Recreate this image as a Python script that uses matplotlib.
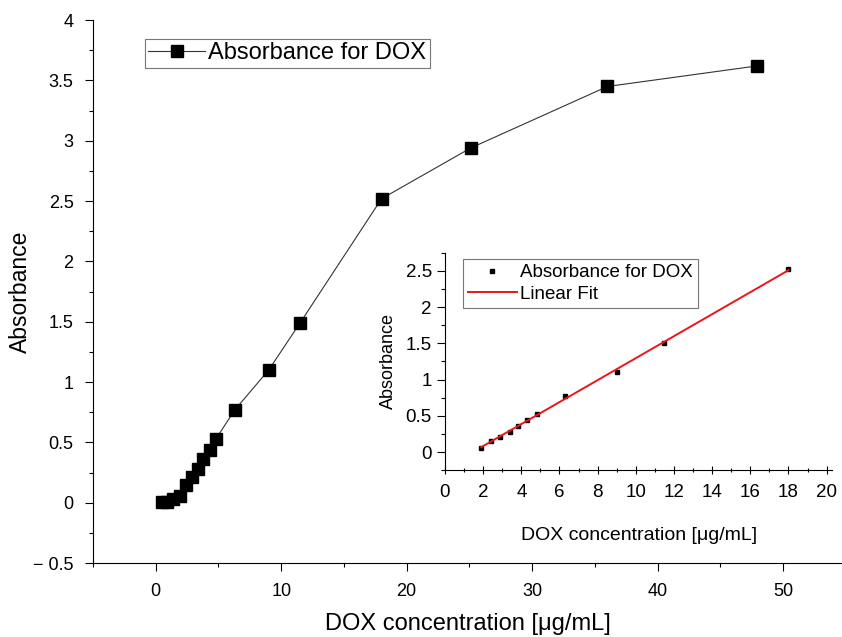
import numpy as np
import matplotlib.pyplot as plt
from matplotlib.ticker import MultipleLocator, FuncFormatter

# main curve
conc = [0.5, 0.9, 1.4, 1.9, 2.4, 2.9, 3.4, 3.8, 4.3, 4.8, 6.3, 9.0, 11.5, 18.0, 25.1, 36.0, 47.9]
absorb = [0.01, 0.01, 0.03, 0.06, 0.15, 0.21, 0.28, 0.36, 0.44, 0.53, 0.77, 1.10, 1.49, 2.52, 2.94, 3.45, 3.62]

# inset (linear range)
conc_lin = [1.9, 2.4, 2.9, 3.4, 3.8, 4.3, 4.8, 6.3, 9.0, 11.5, 18.0]
absorb_lin = [0.06, 0.15, 0.21, 0.28, 0.36, 0.44, 0.53, 0.77, 1.10, 1.50, 2.53]

plt.rcParams['font.family'] = ['Liberation Sans', 'DejaVu Sans']

def fmt(v, pos):
    s = ('%g' % round(v, 2))
    return s.replace('-', '\u2212 ')

fig = plt.figure(figsize=(8.42, 6.37), dpi=100)
ax = fig.add_axes([0.1105, 0.116, 0.8895, 0.8524])
ax.plot(conc, absorb, color='#333333', lw=0.8, marker='s', ms=8.5,
        mfc='black', mec='black', label='Absorbance for DOX')
ax.set_xlim(-5, 54.7)
ax.set_ylim(-0.5, 4)
ax.spines['top'].set_visible(False)
ax.spines['right'].set_visible(False)
ax.xaxis.set_major_locator(MultipleLocator(10))
ax.xaxis.set_minor_locator(MultipleLocator(5))
ax.yaxis.set_major_locator(MultipleLocator(0.5))
ax.yaxis.set_minor_locator(MultipleLocator(0.25))
ax.yaxis.set_major_formatter(FuncFormatter(fmt))
ax.tick_params(which='major', length=6, width=0.8, labelsize=13, pad=8)
ax.tick_params(which='minor', length=3, width=0.8)
ax.set_xlabel('DOX concentration [\u03bcg/mL]', fontsize=17, labelpad=10)
ax.set_ylabel('Absorbance', fontsize=16.5)
ax.yaxis.set_label_coords(-0.081, 0.5)
leg = ax.legend(loc='upper left', bbox_to_anchor=(0.069, 0.966), fontsize=17,
                fancybox=False, edgecolor='#555555', handlelength=2.4,
                handletextpad=0.15, borderpad=0.15, borderaxespad=0)
leg.get_frame().set_linewidth(0.8)

# inset
ins = fig.add_axes([0.5285, 0.262, 0.46, 0.341])
slope, icpt = np.polyfit(conc_lin, absorb_lin, 1)
xs = np.array([conc_lin[0], conc_lin[-1]])
ins.plot(conc_lin, absorb_lin, ls='none', marker='s', ms=3.5, color='black',
         label='Absorbance for DOX')
ins.plot(xs, slope * xs + icpt, color='#e8171c', lw=1.4, label='Linear Fit')
ins.set_xlim(0, 20.3)
ins.set_ylim(-0.25, 2.75)
ins.spines['top'].set_visible(False)
ins.spines['right'].set_visible(False)
ins.xaxis.set_major_locator(MultipleLocator(2))
ins.xaxis.set_minor_locator(MultipleLocator(1))
ins.yaxis.set_major_locator(MultipleLocator(0.5))
ins.yaxis.set_minor_locator(MultipleLocator(0.25))
ins.yaxis.set_major_formatter(FuncFormatter(fmt))
ins.tick_params(axis='x', which='both', direction='inout')
ins.tick_params(which='major', length=6, width=0.8, labelsize=13.5)
ins.tick_params(axis='x', which='major', pad=7)
ins.tick_params(which='minor', length=3, width=0.8)
ins.set_xlabel('DOX concentration [\u03bcg/mL]', fontsize=14, labelpad=19)
ins.set_ylabel('Absorbance', fontsize=13, labelpad=6)
leg2 = ins.legend(loc='upper left', bbox_to_anchor=(0.047, 0.97), fontsize=13.5,
                  fancybox=False, edgecolor='#555555', handlelength=2.6,
                  handletextpad=0.2, borderpad=0.25, labelspacing=0.25,
                  borderaxespad=0)
leg2.get_frame().set_linewidth(0.8)

fig.savefig('out.png', dpi=100)
